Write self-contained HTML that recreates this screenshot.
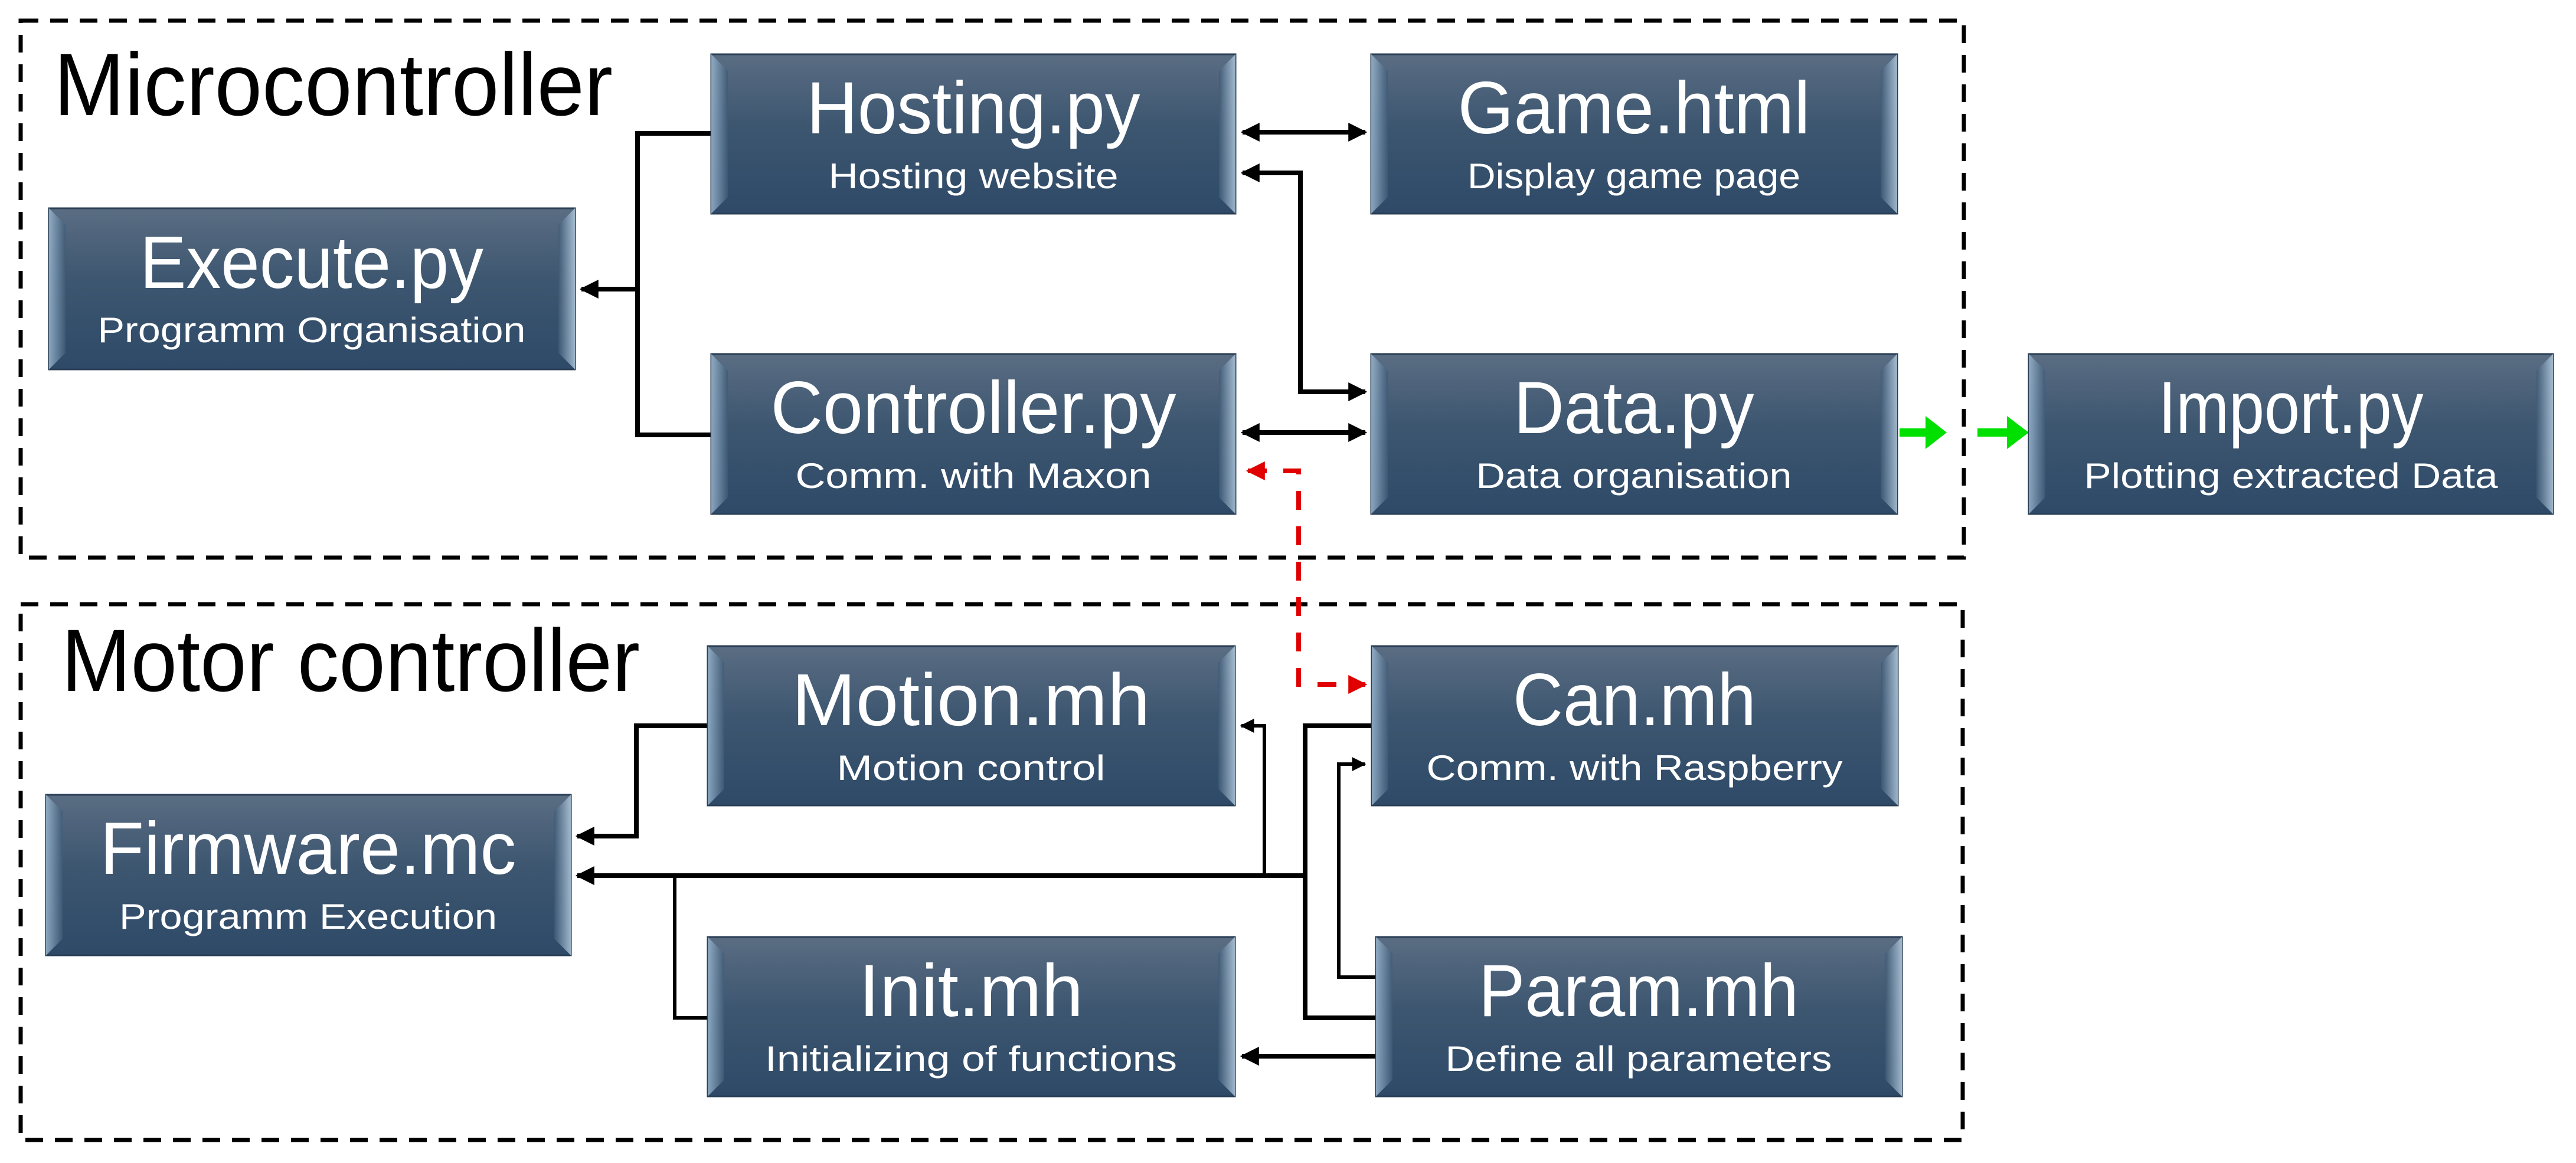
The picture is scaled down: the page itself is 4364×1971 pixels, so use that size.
<!DOCTYPE html>
<html><head><meta charset="utf-8"><style>html,body{margin:0;padding:0;background:#fff}svg{display:block}</style></head>
<body>
<svg width="4364" height="1971" viewBox="0 0 4364 1971" xmlns="http://www.w3.org/2000/svg" font-family="Liberation Sans, sans-serif">
<defs>
<linearGradient id="g" x1="0" y1="0" x2="0" y2="1">
<stop offset="0" stop-color="#5a6d83"/><stop offset="0.45" stop-color="#3d5670"/><stop offset="1" stop-color="#2e4a68"/>
</linearGradient>
<linearGradient id="lb" x1="0" y1="0" x2="1" y2="0"><stop offset="0" stop-color="#9fbbd4"/><stop offset="1" stop-color="#3f5a76"/></linearGradient>
<linearGradient id="rb" x1="0" y1="0" x2="1" y2="0"><stop offset="0" stop-color="#3f5a76"/><stop offset="1" stop-color="#b8d0e4"/></linearGradient>
<marker id="a" markerWidth="4" markerHeight="4" refX="3.6" refY="2" orient="auto-start-reverse" markerUnits="strokeWidth"><path d="M0,0 L4,2 L0,4 z" fill="#000"/></marker>
<marker id="ar" markerWidth="4" markerHeight="4" refX="3.6" refY="2" orient="auto-start-reverse" markerUnits="strokeWidth"><path d="M0,0 L4,2 L0,4 z" fill="#e00000"/></marker>
</defs>

<rect x="35" y="35" width="3292" height="910" fill="none" stroke="#000" stroke-width="7" stroke-dasharray="30,20"/>
<rect x="35" y="1024" width="3290" height="908" fill="none" stroke="#000" stroke-width="7" stroke-dasharray="30,20"/>
<text x="91" y="195" font-size="150" textLength="947" lengthAdjust="spacingAndGlyphs">Microcontroller</text>
<text x="104" y="1171" font-size="150" textLength="980" lengthAdjust="spacingAndGlyphs">Motor controller</text>

<g fill="none" stroke="#000" stroke-width="8">
<polyline points="1205,226 1080,226 1080,737 1205,737"/>
<line x1="1080" y1="490" x2="985" y2="490" marker-end="url(#a)"/>
<line x1="2105" y1="224" x2="2313" y2="224" marker-start="url(#a)" marker-end="url(#a)"/>
<polyline points="2105,293 2203,293 2203,664 2313,664" marker-start="url(#a)" marker-end="url(#a)"/>
<line x1="2105" y1="733" x2="2313" y2="733" marker-start="url(#a)" marker-end="url(#a)"/>

<polyline points="1199,1230 1078,1230 1078,1417 978,1417" marker-end="url(#a)"/>
<polyline points="2211,1484 978,1484" marker-end="url(#a)"/>
<polyline points="1143,1484 1143,1725 1199,1725" stroke-width="6"/>
<polyline points="2142,1484 2142,1230 2103,1230" stroke-width="6" marker-end="url(#a)"/>
<polyline points="2324,1230 2211,1230 2211,1725 2331,1725"/>
<polyline points="2331,1656 2268,1656 2268,1295 2312,1295" stroke-width="6" marker-end="url(#a)"/>
<line x1="2331" y1="1790" x2="2104" y2="1790" marker-end="url(#a)"/>
</g>
<polyline points="2114,798 2200,798 2200,1160 2313,1160" fill="none" stroke="#e00000" stroke-width="8" stroke-dasharray="32,28" marker-start="url(#ar)" marker-end="url(#ar)"/>
<line x1="3218" y1="733" x2="3270" y2="733" stroke="#00e000" stroke-width="14"/>
<path d="M3262,705 L3298,733 L3262,761 z" fill="#00e000"/>
<line x1="3350" y1="733" x2="3405" y2="733" stroke="#00e000" stroke-width="14"/>
<path d="M3400,705 L3437,733 L3400,761 z" fill="#00e000"/>

<g font-family="Liberation Sans, sans-serif" fill="#fff" text-anchor="middle">
<g>
<rect x="83" y="353" width="891" height="273" fill="url(#g)" stroke="#2a3f56" stroke-width="3"/>
<polygon points="83,353 111,381 111,598 83,626" fill="url(#lb)" opacity="0.8"/>
<polygon points="974,353 946,381 946,598 974,626" fill="url(#rb)" opacity="0.8"/>
<text x="528" y="488" font-size="125" textLength="582" lengthAdjust="spacingAndGlyphs">Execute.py</text>
<text x="528" y="580" font-size="60" textLength="725" lengthAdjust="spacingAndGlyphs">Programm Organisation</text>
</g>
<g>
<rect x="1205" y="92" width="888" height="270" fill="url(#g)" stroke="#2a3f56" stroke-width="3"/>
<polygon points="1205,92 1233,120 1233,334 1205,362" fill="url(#lb)" opacity="0.8"/>
<polygon points="2093,92 2065,120 2065,334 2093,362" fill="url(#rb)" opacity="0.8"/>
<text x="1649" y="226" font-size="125" textLength="565" lengthAdjust="spacingAndGlyphs">Hosting.py</text>
<text x="1649" y="319" font-size="60" textLength="491" lengthAdjust="spacingAndGlyphs">Hosting website</text>
</g>
<g>
<rect x="2323" y="92" width="891" height="270" fill="url(#g)" stroke="#2a3f56" stroke-width="3"/>
<polygon points="2323,92 2351,120 2351,334 2323,362" fill="url(#lb)" opacity="0.8"/>
<polygon points="3214,92 3186,120 3186,334 3214,362" fill="url(#rb)" opacity="0.8"/>
<text x="2768" y="226" font-size="125" textLength="597" lengthAdjust="spacingAndGlyphs">Game.html</text>
<text x="2768" y="319" font-size="60" textLength="564" lengthAdjust="spacingAndGlyphs">Display game page</text>
</g>
<g>
<rect x="1205" y="600" width="888" height="271" fill="url(#g)" stroke="#2a3f56" stroke-width="3"/>
<polygon points="1205,600 1233,628 1233,843 1205,871" fill="url(#lb)" opacity="0.8"/>
<polygon points="2093,600 2065,628 2065,843 2093,871" fill="url(#rb)" opacity="0.8"/>
<text x="1649" y="734" font-size="125" textLength="687" lengthAdjust="spacingAndGlyphs">Controller.py</text>
<text x="1649" y="827" font-size="60" textLength="603" lengthAdjust="spacingAndGlyphs">Comm. with Maxon</text>
</g>
<g>
<rect x="2323" y="600" width="891" height="271" fill="url(#g)" stroke="#2a3f56" stroke-width="3"/>
<polygon points="2323,600 2351,628 2351,843 2323,871" fill="url(#lb)" opacity="0.8"/>
<polygon points="3214,600 3186,628 3186,843 3214,871" fill="url(#rb)" opacity="0.8"/>
<text x="2768" y="734" font-size="125" textLength="407" lengthAdjust="spacingAndGlyphs">Data.py</text>
<text x="2768" y="827" font-size="60" textLength="535" lengthAdjust="spacingAndGlyphs">Data organisation</text>
</g>
<g>
<rect x="3437" y="600" width="888" height="271" fill="url(#g)" stroke="#2a3f56" stroke-width="3"/>
<polygon points="3437,600 3465,628 3465,843 3437,871" fill="url(#lb)" opacity="0.8"/>
<polygon points="4325,600 4297,628 4297,843 4325,871" fill="url(#rb)" opacity="0.8"/>
<text x="3881" y="734" font-size="125" textLength="449" lengthAdjust="spacingAndGlyphs">Import.py</text>
<text x="3881" y="827" font-size="60" textLength="701" lengthAdjust="spacingAndGlyphs">Plotting extracted Data</text>
</g>
<g>
<rect x="1199" y="1095" width="893" height="270" fill="url(#g)" stroke="#2a3f56" stroke-width="3"/>
<polygon points="1199,1095 1227,1123 1227,1337 1199,1365" fill="url(#lb)" opacity="0.8"/>
<polygon points="2092,1095 2064,1123 2064,1337 2092,1365" fill="url(#rb)" opacity="0.8"/>
<text x="1645" y="1229" font-size="125" textLength="607" lengthAdjust="spacingAndGlyphs">Motion.mh</text>
<text x="1645" y="1322" font-size="60" textLength="455" lengthAdjust="spacingAndGlyphs">Motion control</text>
</g>
<g>
<rect x="2324" y="1095" width="891" height="270" fill="url(#g)" stroke="#2a3f56" stroke-width="3"/>
<polygon points="2324,1095 2352,1123 2352,1337 2324,1365" fill="url(#lb)" opacity="0.8"/>
<polygon points="3215,1095 3187,1123 3187,1337 3215,1365" fill="url(#rb)" opacity="0.8"/>
<text x="2769" y="1229" font-size="125" textLength="412" lengthAdjust="spacingAndGlyphs">Can.mh</text>
<text x="2769" y="1322" font-size="60" textLength="705" lengthAdjust="spacingAndGlyphs">Comm. with Raspberry</text>
</g>
<g>
<rect x="78" y="1347" width="889" height="272" fill="url(#g)" stroke="#2a3f56" stroke-width="3"/>
<polygon points="78,1347 106,1375 106,1591 78,1619" fill="url(#lb)" opacity="0.8"/>
<polygon points="967,1347 939,1375 939,1591 967,1619" fill="url(#rb)" opacity="0.8"/>
<text x="522" y="1481" font-size="125" textLength="705" lengthAdjust="spacingAndGlyphs">Firmware.mc</text>
<text x="522" y="1574" font-size="60" textLength="640" lengthAdjust="spacingAndGlyphs">Programm Execution</text>
</g>
<g>
<rect x="1199" y="1588" width="893" height="270" fill="url(#g)" stroke="#2a3f56" stroke-width="3"/>
<polygon points="1199,1588 1227,1616 1227,1830 1199,1858" fill="url(#lb)" opacity="0.8"/>
<polygon points="2092,1588 2064,1616 2064,1830 2092,1858" fill="url(#rb)" opacity="0.8"/>
<text x="1645" y="1722" font-size="125" textLength="380" lengthAdjust="spacingAndGlyphs">Init.mh</text>
<text x="1645" y="1815" font-size="60" textLength="698" lengthAdjust="spacingAndGlyphs">Initializing of functions</text>
</g>
<g>
<rect x="2331" y="1588" width="891" height="270" fill="url(#g)" stroke="#2a3f56" stroke-width="3"/>
<polygon points="2331,1588 2359,1616 2359,1830 2331,1858" fill="url(#lb)" opacity="0.8"/>
<polygon points="3222,1588 3194,1616 3194,1830 3222,1858" fill="url(#rb)" opacity="0.8"/>
<text x="2776" y="1722" font-size="125" textLength="542" lengthAdjust="spacingAndGlyphs">Param.mh</text>
<text x="2776" y="1815" font-size="60" textLength="655" lengthAdjust="spacingAndGlyphs">Define all parameters</text>
</g>
</g>
</svg>
</body></html>
